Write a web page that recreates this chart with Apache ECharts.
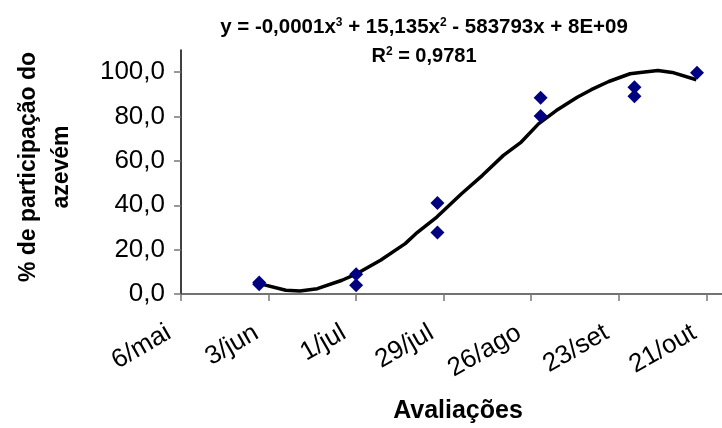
<!DOCTYPE html>
<html>
<head>
<meta charset="utf-8">
<script src="https://cdn.jsdelivr.net/npm/echarts@6/dist/echarts.min.js"></script>
<style>
  html, body { margin: 0; padding: 0; background: #fff; }
  #chart { width: 722px; height: 428px; }
</style>
</head>
<body>
<div id="chart"></div>
<script>
// Days are counted from 6/mai (day 0).
const tickDays = [0, 28, 56, 84, 112, 140, 168];
const tickLabels = ['6/mai', '3/jun', '1/jul', '29/jul', '26/ago', '23/set', '21/out'];
const yTicks = [0, 20, 40, 60, 80, 100];

// Observed participation (%) per evaluation day
const obsDays   = [25, 25, 56, 56, 82, 82, 115, 115, 145, 145, 165];
const obsValues = [5.2, 4.4, 8.9, 3.9, 41.0, 27.7, 88.5, 80.2, 93.2, 89.2, 99.8];

// Polynomial trend line (3rd order), sampled along its course
const trendDays   = [25.1, 33.5, 38, 43.6, 51.5, 56.3, 63.8, 71.7, 75.1, 81.8, 89.7, 96.4,
                     103.1, 108.8, 114.4, 120, 126.7, 131.2, 136.8, 143.6, 146.9, 152.5, 157.1, 164.8];
const trendValues = [4.7, 1.7, 1.4, 2.4, 6.2, 9.2, 15.2, 22.7, 27.2, 34.7, 45.2, 53.5,
                     62.5, 68.5, 76.8, 82.7, 88.7, 92.1, 95.8, 99.3, 99.9, 100.8, 99.9, 96.6];

const FONT = '"Liberation Sans", Arial, sans-serif';

const chart = echarts.init(document.getElementById('chart'), null, { renderer: 'canvas' });

chart.setOption({
  animation: false,
  backgroundColor: '#ffffff',
  grid: { left: 181, right: 0, top: 50, bottom: 134, containLabel: false },
  xAxis: {
    type: 'value',
    min: 0,
    max: 173,
    interval: 28,
    splitLine: { show: false },
    axisLine: { show: true, onZero: false, lineStyle: { color: '#444', width: 1.5 } },
    axisTick: { show: true, customValues: tickDays, length: 7, lineStyle: { color: '#777', width: 1.5 } },
    axisLabel: {
      customValues: tickDays,
      rotate: 30,
      margin: 30,
      padding: [0, 14, 0, 0],
      fontFamily: FONT,
      fontSize: 26,
      color: '#000',
      formatter: function (v) {
        const i = tickDays.indexOf(Math.round(v));
        return i >= 0 ? tickLabels[i] : '';
      }
    }
  },
  yAxis: {
    type: 'value',
    min: 0,
    max: 110,
    interval: 20,
    splitLine: { show: false },
    axisLine: { show: true, onZero: false, lineStyle: { color: '#000', width: 1.5 } },
    axisTick: { show: true, customValues: yTicks, length: 7, lineStyle: { color: '#777', width: 1.5 } },
    axisLabel: {
      customValues: yTicks,
      margin: 16,
      fontFamily: FONT,
      fontSize: 26,
      color: '#000',
      formatter: function (v) { return v.toFixed(1).replace('.', ','); }
    }
  },
  graphic: [
    {
      type: 'text',
      style: {
        x: 424, y: 27,
        text: '{b|y = -0,0001x}{s|3}{b| + 15,135x}{s|2}{b| - 583793x + 8E+09}',
        align: 'center',
        verticalAlign: 'middle',
        rich: {
          b: { fontFamily: FONT, fontSize: 20.5, fontWeight: 'bold', fill: '#000' },
          s: { fontFamily: FONT, fontSize: 12, fontWeight: 'bold', fill: '#000', padding: [0, 0, 9, 0] }
        }
      }
    },
    {
      type: 'text',
      style: {
        x: 424, y: 56,
        text: '{b|R}{s|2}{b| = 0,9781}',
        align: 'center',
        verticalAlign: 'middle',
        rich: {
          b: { fontFamily: FONT, fontSize: 20, fontWeight: 'bold', fill: '#000' },
          s: { fontFamily: FONT, fontSize: 12, fontWeight: 'bold', fill: '#000', padding: [0, 0, 9, 0] }
        }
      }
    },
    {
      type: 'text',
      x: 45, y: 167,
      rotation: Math.PI / 2,
      style: {
        text: '% de participação do\nazevém',
        align: 'center',
        verticalAlign: 'middle',
        fontFamily: FONT,
        fontSize: 23,
        fontWeight: 'bold',
        lineHeight: 33,
        fill: '#000'
      }
    },
    {
      type: 'text',
      style: {
        x: 458, y: 411,
        text: 'Avaliações',
        align: 'center',
        verticalAlign: 'middle',
        fontFamily: FONT,
        fontSize: 25,
        fontWeight: 'bold',
        fill: '#000'
      }
    }
  ],
  series: [
    {
      name: 'Tendência',
      type: 'line',
      data: trendDays.map((d, i) => [d, trendValues[i]]),
      showSymbol: false,
      symbol: 'none',
      smooth: false,
      lineStyle: { color: '#000', width: 3.5 },
      z: 2
    },
    {
      name: 'Participação',
      type: 'scatter',
      data: obsDays.map((d, i) => [d, obsValues[i]]),
      symbol: 'diamond',
      symbolSize: 14,
      itemStyle: { color: '#000080', opacity: 1 },
      z: 3
    }
  ]
});
</script>
</body>
</html>
